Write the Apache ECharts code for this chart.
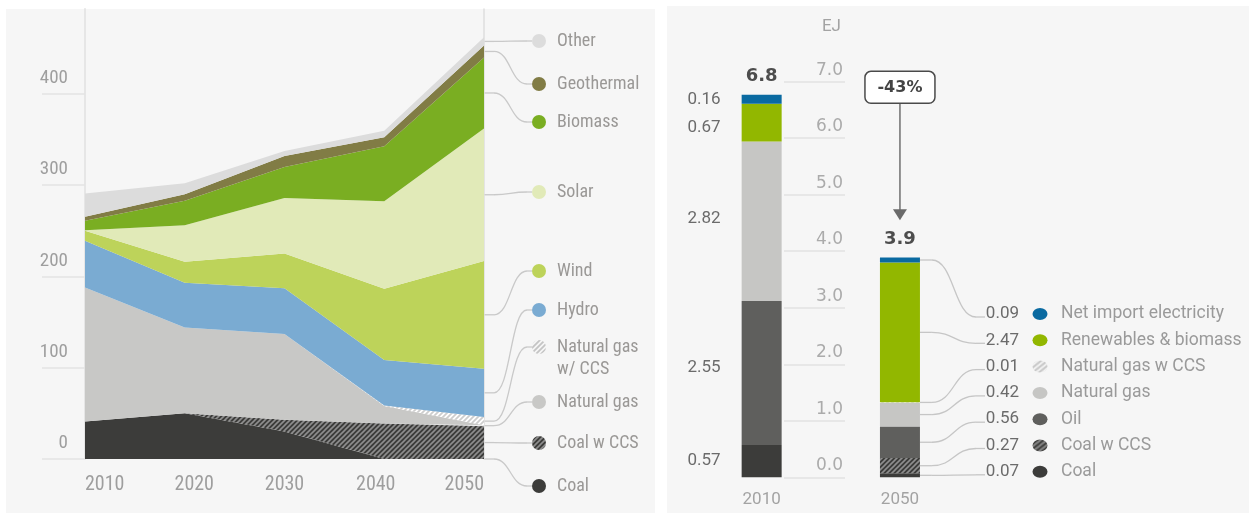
<!DOCTYPE html>
<html><head><meta charset="utf-8">
<script src="https://cdn.jsdelivr.net/npm/echarts@6/dist/echarts.min.js"></script>
<style>
html,body{margin:0;padding:0;background:#fff;}
#wrap{position:relative;width:1249px;height:513px;overflow:hidden;}
.bg{position:absolute;background:#f6f6f6;}
#chart{position:absolute;left:0;top:0;width:1249px;height:513px;}
</style></head><body>
<div id="wrap">
<div class="bg" style="left:6px;top:9px;width:649px;height:504px"></div>
<div class="bg" style="left:667px;top:6px;width:582px;height:507px"></div>
<div id="chart"></div></div>
<script>
// ---------- left panel data (stacked) ----------
const years = ['2010', '2020', '2030', '2040', '2050'];
const coal          = [41, 50, 30, 0, 0];
const coalCCS       = [0, 0, 13, 39, 36];
const naturalGas    = [147, 94, 94, 19, 1];
const naturalGasCCS = [0, 0, 0, 0.5, 9];
const hydro         = [51, 49, 50, 50, 53];
const wind          = [11, 23, 38, 78, 118];
const solar         = [0.5, 40, 61, 96, 145];
const biomass       = [10.5, 27, 34, 60, 78];
const geothermal    = [4.5, 7, 12, 10, 13];
const other         = [25.5, 12, 5.5, 7, 9];
const leftTicks = [0, 100, 200, 300, 400];

// ---------- right panel data (EJ) ----------
const barYears = ['2010', '2050'];
const barCoal    = [0.57, 0.07];
const barCoalCCS = [0, 0.27];
const barOil     = [2.55, 0.56];
const barGas     = [2.82, 0.42];
const barGasCCS  = [0, 0.01];
const barRenew   = [0.67, 2.47];
const barImport  = [0.16, 0.09];

// ---------- helpers ----------
function hatch(bg, fg, size, lw) {
  const c = document.createElement('canvas');
  c.width = c.height = size;
  const g = c.getContext('2d');
  if (bg) { g.fillStyle = bg; g.fillRect(0, 0, size, size); }
  g.strokeStyle = fg; g.lineWidth = lw; g.lineCap = 'square';
  g.beginPath();
  g.moveTo(0, size); g.lineTo(size, 0);
  g.moveTo(-1, 1); g.lineTo(1, -1);
  g.moveTo(size - 1, size + 1); g.lineTo(size + 1, size - 1);
  g.stroke();
  return { image: c, repeat: 'repeat' };
}
const FN = "'Liberation Sans Narrow','Roboto Condensed','DejaVu Sans Condensed',Roboto,sans-serif";
const FR = "Roboto,'Noto Sans',sans-serif";
const FD = "'DejaVu Sans',sans-serif";

const darkHatch = () => hatch('#3c3c3a', '#8e8e8e', 5, 1.6);
const lightHatch = () => hatch('#ffffff', '#cdcdcd', 5, 1.8);
const lightHatchIcon = () => hatch(null, '#c4c4c4', 5, 1.8);

const leftSeries = [
  { name: 'Coal', data: coal, fill: '#3c3c3a', icon: '#3c3c3a', label: 'Coal' },
  { name: 'Coal w CCS', data: coalCCS, fill: darkHatch(), icon: darkHatch(), label: 'Coal w CCS' },
  { name: 'Natural gas', data: naturalGas, fill: '#c8c8c6', icon: '#c8c8c6', label: 'Natural gas' },
  { name: 'Natural gas w/ CCS', data: naturalGasCCS, fill: lightHatch(), icon: lightHatchIcon(), label: 'Natural gas\nw/ CCS' },
  { name: 'Hydro', data: hydro, fill: '#7aabd2', icon: '#7aabd2', label: 'Hydro' },
  { name: 'Wind', data: wind, fill: '#bdd35a', icon: '#bdd35a', label: 'Wind' },
  { name: 'Solar', data: solar, fill: '#e1eab8', icon: '#e1eab8', label: 'Solar' },
  { name: 'Biomass', data: biomass, fill: '#7aae22', icon: '#7aae22', label: 'Biomass' },
  { name: 'Geothermal', data: geothermal, fill: '#817c45', icon: '#817c45', label: 'Geothermal' },
  { name: 'Other', data: other, fill: '#dcdcdc', icon: '#dcdcdc', label: 'Other' }
];
// legend layout (pixel rows, same order as series)
const leftLegendRowY = [486, 443, 402, 347, 310, 271, 192, 122, 84, 41];

const rightSeries = [
  { name: 'Coal', data: barCoal, fill: '#3c3c3a', icon: '#3c3c3a', nudge: 0 },
  { name: 'Coal w CCS', data: barCoalCCS, fill: darkHatch(), icon: darkHatch(), nudge: 0 },
  { name: 'Oil', data: barOil, fill: '#5f5f5d', icon: '#5f5f5d', nudge: -5 },
  { name: 'Natural gas', data: barGas, fill: '#c6c6c4', icon: '#c6c6c4', nudge: -3 },
  { name: 'Natural gas w CCS', data: barGasCCS, fill: lightHatch(), icon: lightHatchIcon(), nudge: 0 },
  { name: 'Renewables & biomass', data: barRenew, fill: '#92b700', icon: '#92b700', nudge: 5 },
  { name: 'Net import electricity', data: barImport, fill: '#0a6aa1', icon: '#0a6aa1', nudge: 1 }
];
const barTotals = barYears.map((_, i) => rightSeries.reduce((s, r) => s + r.data[i], 0));
const BAR_W = 40;

const chart = echarts.init(document.getElementById('chart'), null, { renderer: 'canvas' });

const option = {
  animation: false,
  backgroundColor: 'transparent',
  grid: [
    { left: 85, top: 9, width: 399, height: 450, outerBoundsMode: 'none', containLabel: false },
    { left: 692.5, top: 81.7, width: 276.6, height: 395.6, outerBoundsMode: 'none', containLabel: false }
  ],
  xAxis: [
    {
      type: 'category', gridIndex: 0, data: years, boundaryGap: false,
      axisLine: { show: false }, axisTick: { show: false }, splitLine: { show: false },
      axisLabel: {
        interval: 0, margin: 16, fontFamily: FN, fontSize: 20, color: '#9e9e9e',
        alignMinLabel: 'left', alignMaxLabel: 'right',
        formatter: (v, i) => '{l' + i + '|' + v + '}',
        rich: {
          l0: {}, l1: { padding: [0, 0, 0, 19] }, l2: {}, l3: { padding: [0, 17, 0, 0] }, l4: {}
        }
      }
    },
    {
      type: 'category', gridIndex: 1, data: barYears,
      axisLine: { show: false }, axisTick: { show: false }, splitLine: { show: false },
      axisLabel: { margin: 14, fontFamily: FR, fontSize: 17, color: '#a3a3a3' }
    }
  ],
  yAxis: [
    {
      type: 'value', gridIndex: 0, min: 0, max: 493, interval: 100,
      splitLine: { show: false },
      axisLine: { show: true, lineStyle: { color: '#e6e6e6', width: 2 } },
      axisTick: { show: true, length: 43, customValues: leftTicks, lineStyle: { color: '#e3e3e3', width: 1.5 } },
      axisLabel: {
        customValues: leftTicks, margin: 17, fontFamily: FN, fontSize: 19, color: '#9e9e9e',
        align: 'right', verticalAlign: 'bottom', lineHeight: 19, padding: [0, 0, 6, 0]
      }
    },
    {
      type: 'value', gridIndex: 0, min: 0, max: 493, position: 'right',
      splitLine: { show: false }, axisTick: { show: false }, axisLabel: { show: false },
      axisLine: { show: true, lineStyle: { color: '#dedede', width: 1.5 } }
    },
    {
      type: 'value', gridIndex: 1, min: 0, max: 7, interval: 1, position: 'left', offset: -152.5,
      splitLine: { show: false },
      axisLine: { show: false },
      axisTick: { show: true, length: 61, lineStyle: { color: '#e2e2e2', width: 1.5 } },
      axisLabel: {
        margin: 2, fontFamily: FD, fontSize: 17, color: '#ababab', align: 'right',
        verticalAlign: 'bottom', lineHeight: 17, padding: [0, 0, 3, 0],
        formatter: v => v.toFixed(1)
      },
      name: 'EJ', nameLocation: 'end', nameGap: 46,
      nameTextStyle: { fontFamily: FR, fontSize: 17, color: '#a3a3a3', align: 'right', padding: [0, 4, 0, 0] }
    }
  ],
  series: [
    ...leftSeries.map(s => ({
      type: 'line', name: s.name, xAxisIndex: 0, yAxisIndex: 0, stack: 'mix', data: s.data,
      symbol: 'none', smooth: false, lineStyle: { width: 0, opacity: 0 },
      areaStyle: { color: s.fill, opacity: 1 }, silent: true, emphasis: { disabled: true }
    })),
    ...rightSeries.map(s => ({
      type: 'bar', name: s.name, xAxisIndex: 1, yAxisIndex: 2, stack: 'ej', data: s.data,
      barWidth: BAR_W, itemStyle: { color: s.fill }, silent: true, emphasis: { disabled: true },
      label: {
        show: true, position: 'left', distance: 21, offset: [0, s.nudge],
        fontFamily: FR, fontSize: 17, color: '#6b6b6b',
        formatter: p => (p.dataIndex === 0 && p.value > 0) ? p.value.toFixed(2) : ''
      }
    })),
    {
      type: 'bar', name: 'total', xAxisIndex: 1, yAxisIndex: 2, stack: 'ej',
      data: barYears.map(() => 0), barWidth: BAR_W, silent: true, itemStyle: { color: 'transparent' },
      label: {
        show: true, position: 'top', distance: 9, fontFamily: FD, fontWeight: 'bold', fontSize: 18,
        color: '#4d4d4d', formatter: p => barTotals[p.dataIndex].toFixed(1)
      }
    }
  ]
};
chart.setOption(option);

// ---------- legends with leader lines, annotation ----------
const g = [];
function leader(x0, ya, xa, xb, yb, x1, color) {
  const xm = (xa + xb) / 2;
  const st = { stroke: color, lineWidth: 1.3, fill: null };
  g.push({ type: 'line', silent: true, shape: { x1: x0, y1: ya, x2: xa, y2: ya }, style: st });
  g.push({
    type: 'bezierCurve', silent: true,
    shape: { x1: xa, y1: ya, cpx1: xm, cpy1: ya, cpx2: xm, cpy2: yb, x2: xb, y2: yb },
    style: st
  });
  g.push({ type: 'line', silent: true, shape: { x1: xb, y1: yb, x2: x1, y2: yb }, style: st });
}
const nL = leftSeries.length;
let cum = 0;
const leftEdge = chart.convertToPixel({ seriesIndex: 0 }, [years.length - 1, 0])[0];
leftSeries.forEach((s, i) => {
  const v = s.data[years.length - 1];
  const mid = cum + v / 2; cum += v;
  const ya = chart.convertToPixel({ seriesIndex: 0 }, [years.length - 1, mid])[1];
  const yb = leftLegendRowY[i];
  const cx = 539, r = 7;
  leader(leftEdge, ya, leftEdge + 10, 527, yb, cx - r, '#c9c9c9');
  g.push({ type: 'circle', silent: true, shape: { cx: cx, cy: yb, r: r }, style: { fill: s.icon } });
  const multi = s.label.indexOf('\n') >= 0;
  g.push({
    type: 'text', silent: true, x: 557, y: multi ? yb - 11 : yb,
    style: {
      text: s.label, font: `18px ${FN}`, fill: '#9a9896',
      verticalAlign: multi ? 'top' : 'middle', align: 'left', lineHeight: 22
    }
  });
});

// right legend
const nR = rightSeries.length;
const barIdx = nL;
const lastBar = barYears.length - 1;
const barCx = chart.convertToPixel({ seriesIndex: barIdx }, [lastBar, 0])[0];
const barEdge = barCx + BAR_W / 2;
cum = 0;
const rowY0 = 314, rowStep = 26.3;
rightSeries.forEach((s, i) => {
  const v = s.data[lastBar];
  const mid = cum + v / 2; cum += v;
  const ya = chart.convertToPixel({ seriesIndex: barIdx }, [lastBar, mid])[1];
  const row = nR - 1 - i;
  const yr = rowY0 + row * rowStep;
  const yb = yr + 3;
  leader(barEdge, ya, barEdge + 12, 976, yb, 985, '#c6c6c6');
  g.push({
    type: 'text', silent: true, x: 1019, y: yr,
    style: { text: v.toFixed(2), font: `17px ${FR}`, fill: '#6b6b6b', align: 'right', verticalAlign: 'middle' }
  });
  g.push({
    type: 'circle', silent: true, x: 1040, y: yr, scaleX: 1.25, scaleY: 1,
    shape: { cx: 0, cy: 0, r: 6 }, style: { fill: s.icon }
  });
  g.push({
    type: 'text', silent: true, x: 1061, y: yr,
    style: { text: s.name, font: `17.5px ${FR}`, fill: '#9a9a9a', align: 'left', verticalAlign: 'middle' }
  });
});

// change annotation
const change = Math.round((barTotals[lastBar] / barTotals[0] - 1) * 100);
const boxC = chart.convertToPixel({ seriesIndex: barIdx }, [lastBar, 6.9]);
const tip = chart.convertToPixel({ seriesIndex: barIdx }, [lastBar, 4.55]);
const bw = 70, bh = 32;
g.push({
  type: 'line', silent: true,
  shape: { x1: boxC[0], y1: boxC[1] + bh / 2, x2: tip[0], y2: tip[1] - 10 },
  style: { stroke: '#707070', lineWidth: 1.5 }
});
g.push({
  type: 'polygon', silent: true,
  shape: { points: [[tip[0] - 7, tip[1] - 11], [tip[0] + 7, tip[1] - 11], [tip[0], tip[1]]] },
  style: { fill: '#6a6a6a' }
});
g.push({
  type: 'rect', silent: true,
  shape: { x: boxC[0] - bw / 2, y: boxC[1] - bh / 2, width: bw, height: bh, r: 6 },
  style: { fill: '#ffffff', stroke: '#4a4a4a', lineWidth: 1.5 }
});
g.push({
  type: 'text', silent: true, x: boxC[0], y: boxC[1],
  style: { text: (change > 0 ? '+' : '') + change + '%', font: `bold 16px ${FD}`, fill: '#444', align: 'center', verticalAlign: 'middle' }
});

chart.setOption({ graphic: g });
</script>
</body></html>
